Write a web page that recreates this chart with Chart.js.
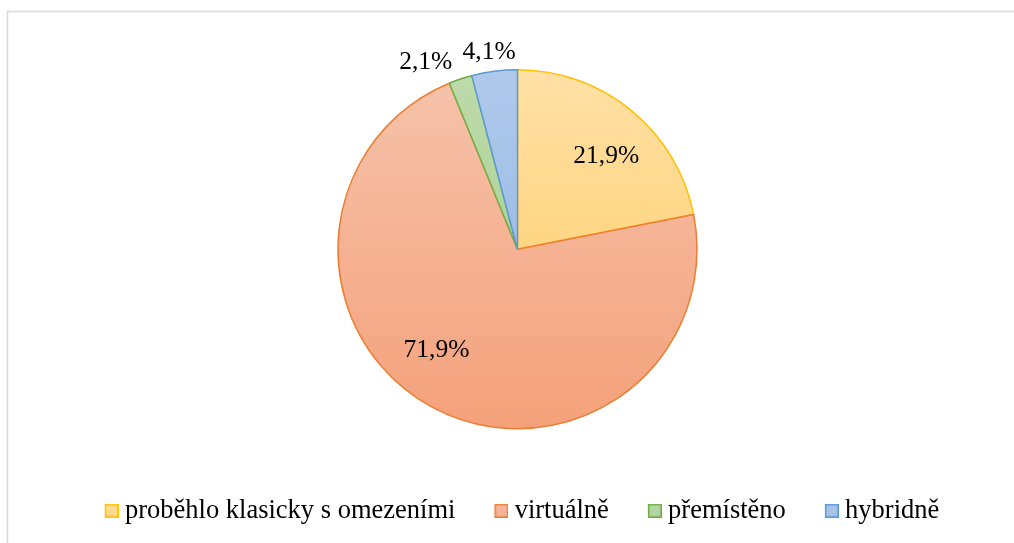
<!DOCTYPE html>
<html><head><meta charset="utf-8">
<script src="https://cdn.jsdelivr.net/npm/chart.js@4.4.1/dist/chart.umd.min.js"></script>
<style>html,body{margin:0;padding:0;background:#fff;}#wrap{position:relative;width:1014px;height:543px;}</style>
</head><body><div id="wrap"><canvas id="c" width="1014" height="543"></canvas></div>
<script>
const categories = ['proběhlo klasicky s omezeními', 'virtuálně', 'přemístěno', 'hybridně'];
const shares = [21.9, 71.9, 2.1, 4.1];
const borderColors = ['#FFC000', '#ED7D31', '#70AD47', '#5B9BD5'];
const gradTop = ['#FFE0A6', '#F6C3AC', '#BEDBAB', '#AFC9EB'];
const gradBottom = ['#FFCB5E', '#F4A17A', '#9FCA86', '#8DB2E0'];
const legendFills = ['#FFD98C', '#F5B497', '#B4D6A0', '#A7C3E8'];

const FONT = '"Liberation Serif", "Times New Roman", serif';
const PIE_R = 179.5;
const B = 16; // legend point-style width

function makeLegendImage(i) {
  const cv = document.createElement('canvas');
  cv.width = B + 14; cv.height = 14;
  const g = cv.getContext('2d');
  g.fillStyle = legendFills[i];
  g.fillRect(B + 0.75, 0.75, 12.5, 12.5);
  g.strokeStyle = borderColors[i];
  g.lineWidth = 1.5;
  g.strokeRect(B + 0.75, 0.75, 12.5, 12.5);
  return cv;
}
const legendImages = categories.map((_, i) => makeLegendImage(i));

const framePlugin = {
  id: 'frame',
  beforeDraw(chart) {
    const ctx = chart.ctx;
    ctx.save();
    ctx.strokeStyle = '#D9D9D9';
    ctx.lineWidth = 1.5;
    ctx.beginPath();
    ctx.moveTo(7.5, 543);
    ctx.lineTo(7.5, 11.5);
    ctx.lineTo(1014, 11.5);
    ctx.stroke();
    ctx.restore();
  }
};

const pieLabels = {
  id: 'pieLabels',
  afterDatasetsDraw(chart, args, opts) {
    const meta = chart.getDatasetMeta(0);
    const ctx = chart.ctx;
    const total = shares.reduce((a, b) => a + b, 0);
    ctx.save();
    ctx.font = '25.5px ' + FONT;
    ctx.fillStyle = '#000';
    ctx.textAlign = 'center';
    ctx.textBaseline = 'alphabetic';
    meta.data.forEach((arc, i) => {
      const p = arc.getProps(['x', 'y', 'startAngle', 'endAngle', 'outerRadius'], true);
      const mid = (p.startAngle + p.endAngle) / 2;
      const pct = shares[i] / total * 100;
      const inside = pct >= 10;
      const d = inside ? p.outerRadius * 0.72 : p.outerRadius + 20;
      const n = opts.nudge[i];
      const px = p.x + d * Math.cos(mid) + n[0];
      const py = p.y + d * Math.sin(mid) + n[1];
      ctx.fillText(pct.toFixed(1).replace('.', ',') + '%', px, py + 8.6);
    });
    ctx.restore();
  }
};

new Chart(document.getElementById('c'), {
  type: 'pie',
  data: {
    labels: categories,
    datasets: [{
      data: shares,
      backgroundColor: (c) => {
        const i = c.dataIndex;
        const area = c.chart.chartArea;
        if (!area || i === undefined) return gradBottom[i || 0];
        const cy = (area.top + area.bottom) / 2;
        const g = c.chart.ctx.createLinearGradient(0, cy - PIE_R, 0, cy + PIE_R);
        g.addColorStop(0, gradTop[i]);
        g.addColorStop(1, gradBottom[i]);
        return g;
      },
      borderColor: borderColors,
      borderWidth: 1.5,
      hoverOffset: 0
    }]
  },
  options: {
    responsive: false,
    devicePixelRatio: 1,
    animation: false,
    radius: PIE_R,
    layout: { padding: { left: 21, right: 0, top: 31, bottom: 9 } },
    plugins: {
      tooltip: { enabled: false },
      legend: {
        position: 'bottom',
        labels: {
          font: { family: FONT, size: 26.5 },
          color: '#000',
          padding: 30,
          usePointStyle: true,
          pointStyleWidth: B,
          generateLabels: (chart) => {
            const items = Chart.overrides.pie.plugins.legend.labels.generateLabels(chart);
            items.forEach((it, i) => { it.pointStyle = legendImages[i]; it.fontColor = '#000'; });
            return items;
          }
        }
      },
      pieLabels: { nudge: [[6.7, 4.6], [-19.8, -15], [-28.3, 0.1], [-2.7, -0.85]] }
    }
  },
  plugins: [framePlugin, pieLabels]
});
</script>
</body></html>
